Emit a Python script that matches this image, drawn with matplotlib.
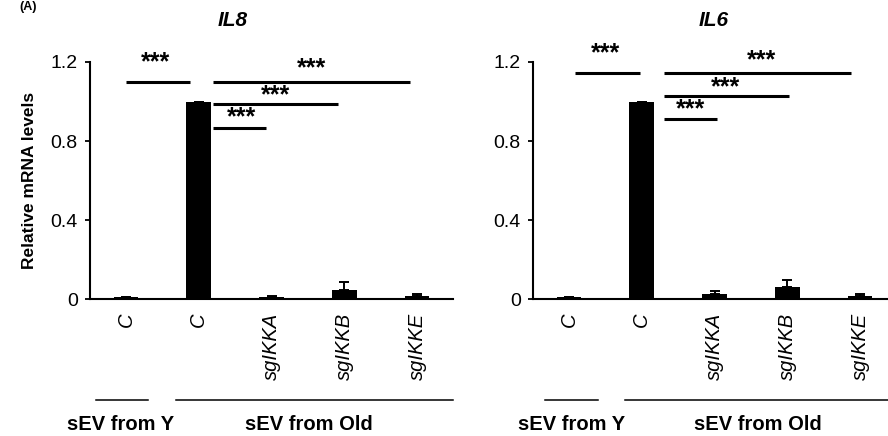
import matplotlib
matplotlib.use("Agg")
import matplotlib.pyplot as plt

plt.rcParams['font.family'] = ['Liberation Sans', 'DejaVu Sans']

# data
conditions = ["C", "C", "sgIKKA", "sgIKKB", "sgIKKE"]
il8_mean = [0.008, 1.0, 0.012, 0.048, 0.015]
il8_err = [0.0, 0.0, 0.004, 0.040, 0.008]
il6_mean = [0.008, 1.0, 0.027, 0.059, 0.017]
il6_err = [0.0, 0.0, 0.015, 0.036, 0.010]
yticks = [0, 0.4, 0.8, 1.2]
ytick_labels = ["0", "0.4", "0.8", "1.2"]
groups = ["sEV from Y", "sEV from Old"]

# significance brackets: (x start, x end, line y, star x, star y)
il8_sig = [(0.0, 0.88, 1.10, 0.41, 1.20),
           (1.2, 3.90, 1.10, 2.55, 1.17),
           (1.2, 2.91, 0.985, 2.06, 1.03),
           (1.2, 1.92, 0.866, 1.59, 0.92)]
il6_sig = [(0.08, 0.98, 1.142, 0.50, 1.243),
           (1.3, 3.88, 1.142, 2.64, 1.21),
           (1.3, 3.02, 1.027, 2.15, 1.071),
           (1.3, 2.03, 0.913, 1.67, 0.96)]

fig = plt.figure(figsize=(8.88, 4.36), dpi=100)
ax1 = fig.add_axes([0.1009, 0.3142, 0.4097, 0.5436])
ax2 = fig.add_axes([0.5998, 0.3142, 0.4097, 0.5436])


def draw(ax, mean, err, sig, ylines, ylabels):
    x = list(range(len(mean)))
    ax.bar(x, mean, width=0.34, color="black", zorder=2)
    ax.errorbar(x, mean, yerr=[[0] * len(err), err], fmt="none",
                ecolor="black", elinewidth=1.4, capsize=3.5, capthick=1.4, zorder=1)
    ax.set_xlim(-0.5, 4.5)
    ax.set_ylim(0, 1.2)
    ax.set_yticks(yticks)
    ax.set_yticklabels(ytick_labels, fontsize=14)
    ax.set_xticks(x)
    ax.set_xticklabels(conditions, rotation=90, fontsize=14.5, style="italic")
    ax.tick_params(axis="x", length=0, pad=10)
    ax.tick_params(axis="y", length=3.5, width=1.3, pad=5)
    for s in ["top", "right"]:
        ax.spines[s].set_visible(False)
    ax.spines["left"].set_linewidth(1.5)
    ax.spines["bottom"].set_linewidth(1.5)
    for x0, x1, yl, sx, sy in sig:
        ax.plot([x0, x1], [yl, yl], color="black", lw=2.2, clip_on=False,
                solid_capstyle="butt")
        ax.text(sx, sy, "***", ha="center", va="center", fontsize=18,
                fontweight="bold", clip_on=False)
    # group lines and labels below axis
    tr = ax.get_xaxis_transform()
    for (a, b) in ylines:
        ax.plot([a, b], [-0.425, -0.425], transform=tr, color="black",
                lw=1.1, clip_on=False)
    for (lx, txt) in zip(ylabels, groups):
        ax.text(lx, -0.53, txt, transform=tr, ha="center", va="center",
                fontsize=14.5, fontweight="bold")


draw(ax1, il8_mean, il8_err, il8_sig, [(-0.41, 0.30), (0.69, 4.50)], [-0.08, 2.52])
draw(ax2, il6_mean, il6_err, il6_sig, [(-0.33, 0.40), (0.77, 4.50)], [0.03, 2.60])

ax1.set_ylabel("Relative mRNA levels", fontsize=12.5, fontweight="bold", labelpad=10)

fig.text(233 / 888, 1 - 21 / 436, "IL8", ha="center", va="center",
         fontsize=15, fontweight="bold", style="italic")
fig.text(714 / 888, 1 - 21 / 436, "IL6", ha="center", va="center",
         fontsize=15, fontweight="bold", style="italic")
fig.text(0.022, 0.998, "(A)", ha="left", va="top",
         fontsize=9, fontweight="bold")

fig.savefig("out.png", dpi=100)
